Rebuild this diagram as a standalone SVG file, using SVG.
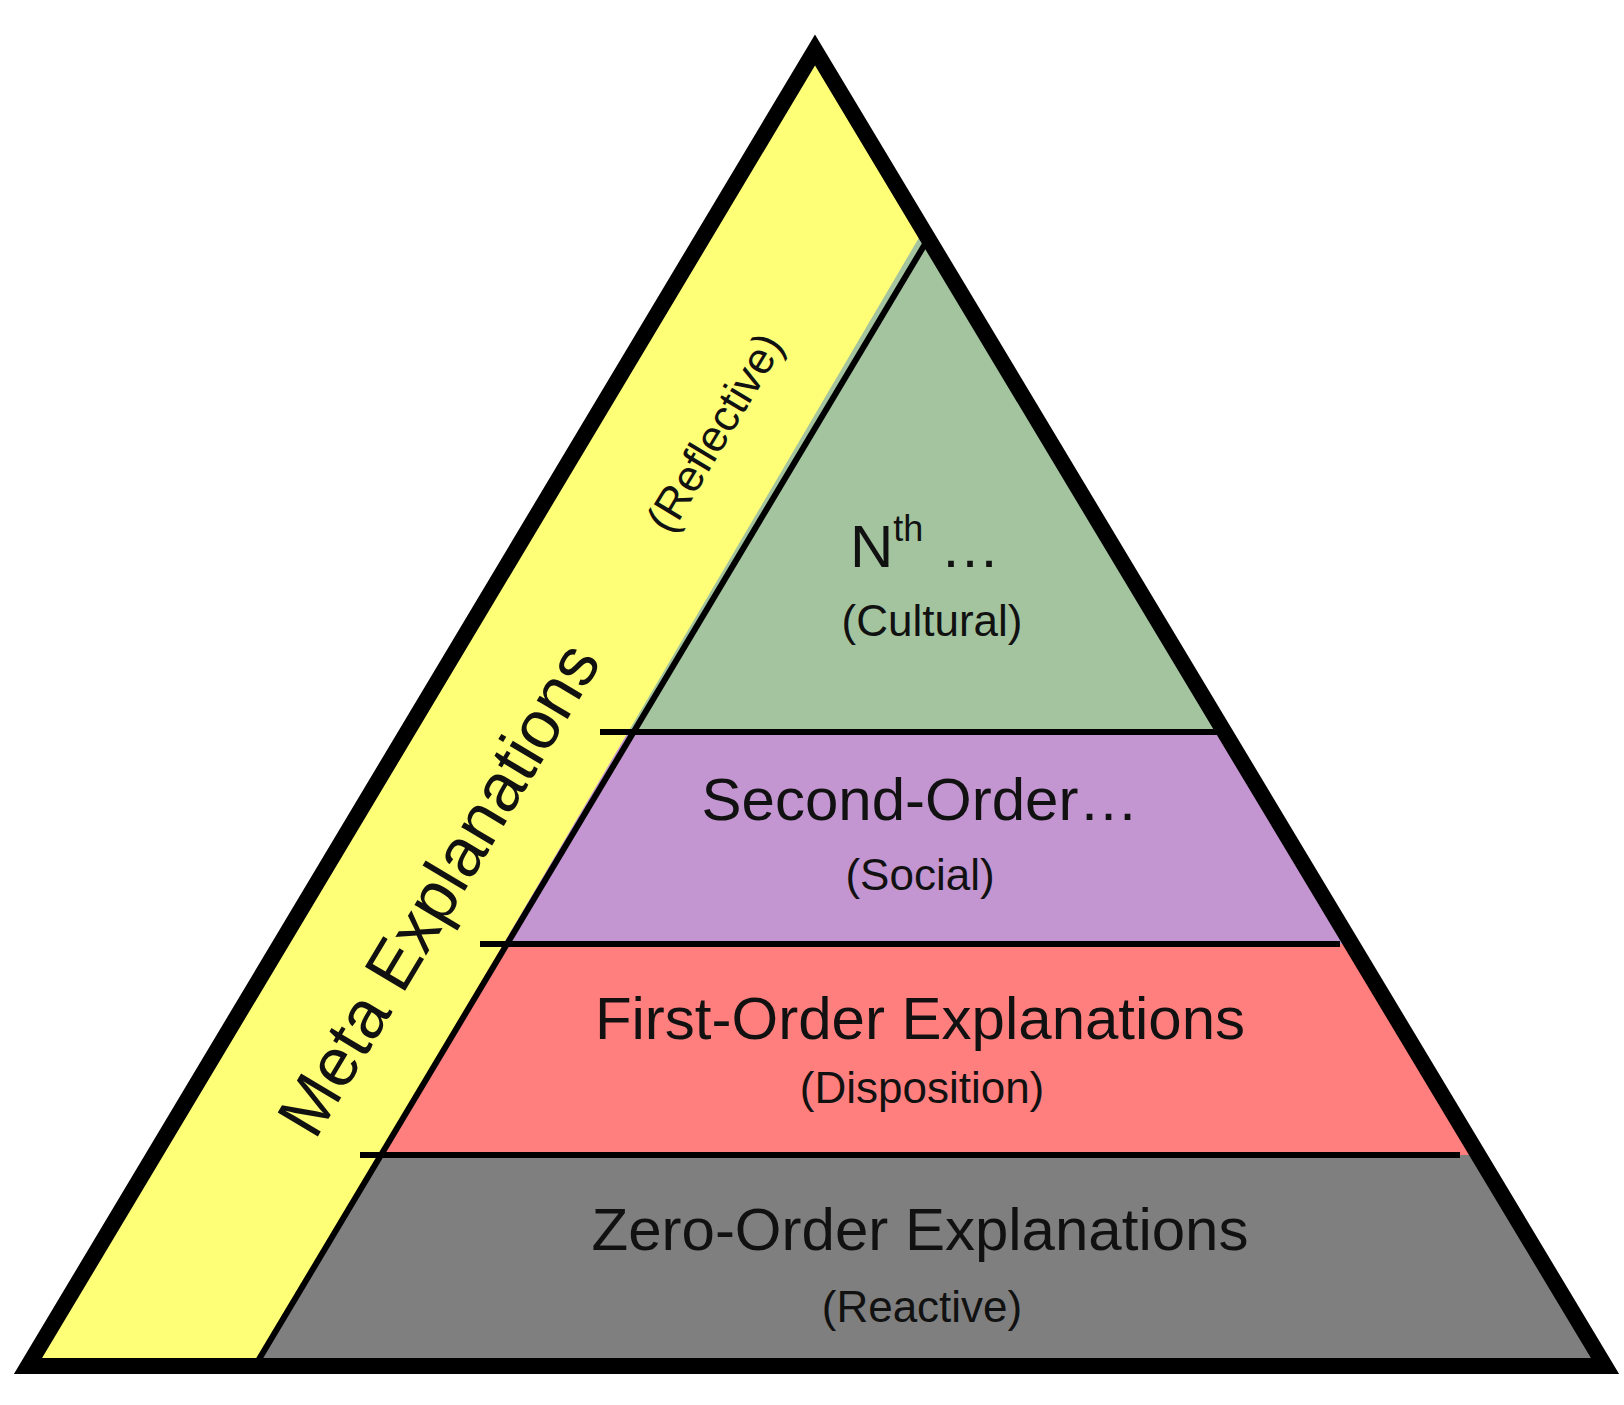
<svg xmlns="http://www.w3.org/2000/svg" width="1624" height="1405" viewBox="0 0 1624 1405">
<style>
text{font-family:"Liberation Sans",Arial,sans-serif;fill:#111;text-anchor:middle}
.big{font-size:60px}
.small{font-size:44px}
.div{stroke:#000;stroke-width:6}
</style>
<defs><clipPath id="tri"><polygon points="815,50 28,1366 1605,1366"/></clipPath></defs>
<rect width="1624" height="1405" fill="#fff"/>
<g clip-path="url(#tri)">
<g id="cultural"><rect x="0" y="0" width="1624" height="732" fill="#A3C49F"/></g>
<g id="social"><rect x="0" y="732" width="1624" height="212" fill="#C396D1"/></g>
<g id="disposition"><rect x="0" y="944" width="1624" height="211" fill="#FF7F7F"/></g>
<g id="reactive"><rect x="0" y="1155" width="1624" height="211" fill="#7F7F7F"/></g>
<g id="meta"><polygon points="0,0 1000,0 1000,100 255,1366 0,1366" fill="#FFFF77"/></g>
</g>
<g id="connectors">
<line class="div" x1="600" y1="732" x2="1220" y2="732"/>
<line class="div" x1="480" y1="944" x2="1340" y2="944"/>
<line class="div" x1="360" y1="1155" x2="1460" y2="1155"/>
<line class="div" x1="928" y1="239" x2="255" y2="1366"/>
<polygon points="815,50 28,1366 1605,1366" fill="none" stroke="#000" stroke-width="16" stroke-linejoin="miter"/>
</g>
<g id="labels">
<text x="925" y="567" class="big">N<tspan font-size="36" dy="-26">th</tspan><tspan dy="26"> …</tspan></text>
<text x="932" y="636" class="small">(Cultural)</text>
<text x="920" y="820" class="big">Second-Order…</text>
<text x="920" y="890" class="small">(Social)</text>
<text x="920" y="1039" class="big">First-Order Explanations</text>
<text x="922" y="1103" class="small">(Disposition)</text>
<text x="920" y="1250" class="big">Zero-Order Explanations</text>
<text x="922" y="1322" class="small">(Reactive)</text>
<g transform="translate(438,889) rotate(-59.1)"><text y="24" font-size="68">Meta Explanations</text></g>
<g transform="translate(714,432) rotate(-59.1)"><text y="16" class="small">(Reflective)</text></g>
</g>
</svg>
